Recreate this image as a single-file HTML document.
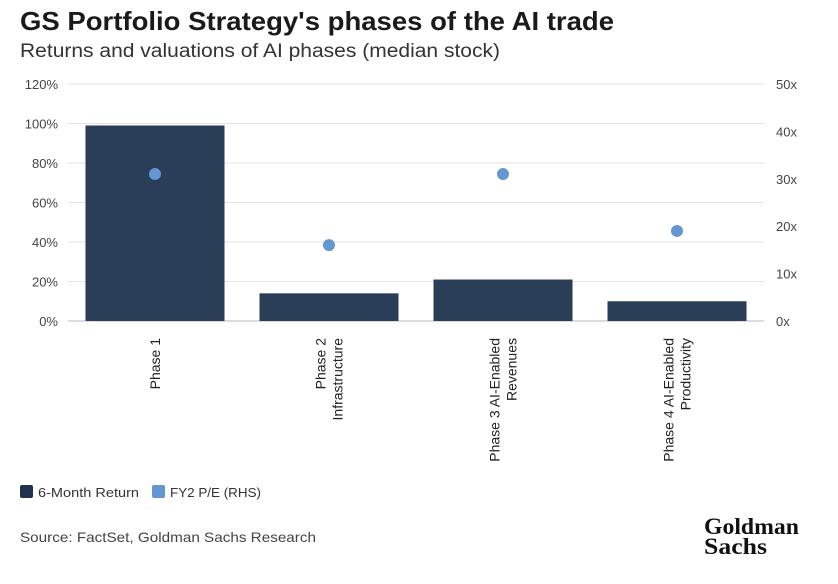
<!DOCTYPE html>
<html><head><meta charset="utf-8"><style>
body{margin:0;background:#fff;font-family:"Liberation Sans",sans-serif;}
svg text{font-family:"Liberation Sans",sans-serif;}
</style></head><body>
<svg id="c" width="838" height="579" xmlns="http://www.w3.org/2000/svg">
<text x="20" y="30" font-size="26" font-weight="bold" fill="#1a1a1a" textLength="594" lengthAdjust="spacingAndGlyphs">GS Portfolio Strategy's phases of the AI trade</text>
<text x="20" y="57" font-size="19" fill="#333" textLength="480" lengthAdjust="spacingAndGlyphs">Returns and valuations of AI phases (median stock)</text>
<g id="grid"></g><g id="bars"></g><g id="dots"></g><g id="axes"></g>
<g>
<rect x="20" y="485" width="13" height="13" rx="2" fill="#1f3350"/>
<text x="38" y="497" font-size="13" fill="#333" textLength="101" lengthAdjust="spacingAndGlyphs">6-Month Return</text>
<rect x="152" y="485" width="13" height="13" rx="2" fill="#6496d2"/>
<text x="170" y="497" font-size="13" fill="#333" textLength="91" lengthAdjust="spacingAndGlyphs">FY2 P/E (RHS)</text>
</g>
<text x="20" y="542" font-size="14" fill="#444" textLength="296" lengthAdjust="spacingAndGlyphs">Source: FactSet, Goldman Sachs Research</text>
<text x="704" y="534" font-size="23" font-weight="bold" fill="#111" style="font-family:'Liberation Serif',serif" textLength="95" lengthAdjust="spacingAndGlyphs">Goldman</text>
<text x="704" y="554" font-size="23" font-weight="bold" fill="#111" style="font-family:'Liberation Serif',serif" textLength="63" lengthAdjust="spacingAndGlyphs">Sachs</text>
</svg>
<script>
const categories=[["Phase 1"],["Phase 2","Infrastructure"],["Phase 3 AI-Enabled","Revenues"],["Phase 4 AI-Enabled","Productivity"]];
const returns=[99,14,21,10];
const pe=[31,16,31,19];
const leftTicks=[0,20,40,60,80,100,120];
const rightTicks=[0,10,20,30,40,50];
const NS="http://www.w3.org/2000/svg";
const x0=68,x1=764,yTop=84,yBot=321;
const yL=v=>yBot-(v/120)*(yBot-yTop);
const yR=v=>yBot-(v/50)*(yBot-yTop);
const band=(x1-x0)/categories.length;
const cx=i=>x0+band*(i+0.5);
function mk(t,a,p){const e=document.createElementNS(NS,t);for(const k in a)e.setAttribute(k,a[k]);p.appendChild(e);return e;}
const G=document.getElementById('grid'),B=document.getElementById('bars'),D=document.getElementById('dots'),A=document.getElementById('axes');
leftTicks.forEach(v=>{
 const l=mk('line',{x1:x0,x2:x1,y1:yL(v),y2:yL(v),stroke:v===0?'#bbb':'#e3e3e3','stroke-width':1},G);
 
 
 const t=mk('text',{x:58,y:yL(v)+5,'font-size':13,fill:'#444','text-anchor':'end'},A);t.textContent=v+'%';
 
 
});
rightTicks.forEach(v=>{
 const t=mk('text',{x:776,y:yR(v)+5,'font-size':13,fill:'#444'},A);t.textContent=v+'x';
 
 
});
const bw=139;
returns.forEach((v,i)=>{
 const r=mk('rect',{x:cx(i)-bw/2,y:yL(v),width:bw,height:yBot-yL(v),fill:'#2b3e58'},B);
 
 
});
pe.forEach((v,i)=>{
 const c=mk('circle',{cx:cx(i),cy:yR(v),r:6,fill:'#6496d2'},D);
 
 
});
categories.forEach((lines,i)=>{
 const n=lines.length;
 lines.forEach((s,j)=>{
  const xx=cx(i)+5+(j-(n-1)/2)*17;
  const t=mk('text',{x:xx,y:338,'font-size':14,fill:'#222','text-anchor':'end',transform:`rotate(-90 ${xx} 338)`},A);
  t.textContent=s;
  
  
 });
});
</script>
</body></html>
